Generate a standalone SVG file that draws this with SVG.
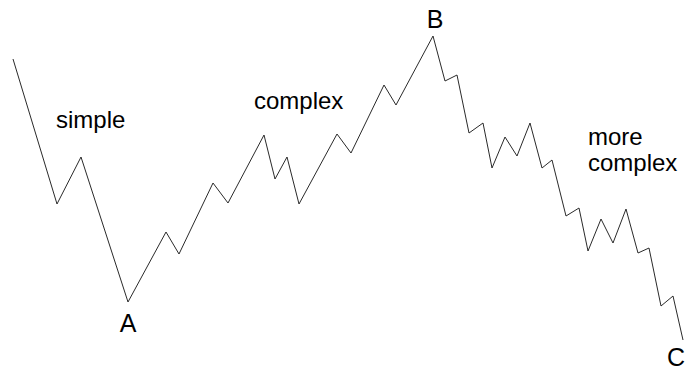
<svg xmlns="http://www.w3.org/2000/svg" width="692" height="371" viewBox="0 0 692 371">
<style>
.wave{fill:none;stroke:#2a2a2a;stroke-width:1;stroke-linejoin:miter}
.word{font-family:"Liberation Sans",Arial,sans-serif;font-size:24px;fill:#000}
.pt{font-family:"Liberation Sans",Arial,sans-serif;font-size:25px;fill:#000;text-anchor:middle}
</style>
<rect width="692" height="371" fill="#fff"/>
<g id="connectors">
<polyline class="wave" points="13,59 57,204 81,157 128,302 166,232 179,254 213,183 228,203 264,135 275,179 287,157 299,204 337,134 351,153 384,85 396,105 433,36 445,81 457,75 469,133 483,123 492,168 505,137 517,156 530,123 542,168 552,160 566,216 579,208 588,251 601,219 613,243 626,209 638,253 649,248 661,306 673,296 683,340"/>
</g>
<g id="label-simple"><text class="word" x="56" y="128">simple</text></g>
<g id="label-complex"><text class="word" x="254" y="109">complex</text></g>
<g id="label-more-complex"><text class="word" x="588" y="145">more</text><text class="word" x="588" y="171">complex</text></g>
<g id="point-A"><text class="pt" x="128" y="332">A</text></g>
<g id="point-B"><text class="pt" x="435" y="28">B</text></g>
<g id="point-C"><text class="pt" x="676" y="366">C</text></g>
</svg>
